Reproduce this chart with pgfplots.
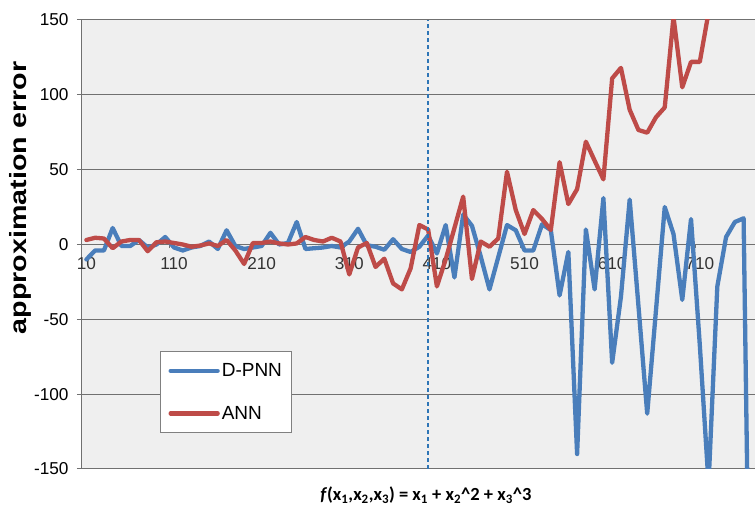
\documentclass[border=0pt]{standalone}
\usepackage{fontspec}
\setmainfont{Liberation Sans}
\newfontfamily\carlito{Carlito}
\usepackage{graphicx}
\usepackage{pgfplots}
\pgfplotsset{compat=1.18}
\definecolor{bluel}{RGB}{74,126,187}
\definecolor{redl}{RGB}{190,75,72}
\definecolor{bgc}{RGB}{239,239,239}
\definecolor{gridc}{RGB}{112,112,112}
\definecolor{dashc}{RGB}{46,117,182}
\begin{document}
\begin{tikzpicture}
\path[use as bounding box] (-82pt,-37pt) rectangle (673pt,469pt);
\begin{axis}[
  at={(0pt,0pt)}, anchor=south west,
  scale only axis, width=673pt, height=449pt,
  xmin=5, xmax=773, ymin=-150, ymax=150,
  axis x line=middle, axis y line=left,
  axis line style={-, draw=gridc, line width=1pt},
  axis background/.style={fill=bgc},
  ytick={-150,-100,-50,0,50,100,150},
  yticklabels={-150,-100,-50,0,50,100,150},
  xtick={10,110,210,310,410,510,610,710},
  xticklabels={10,110,210,310,410,510,610,710},
  x tick style={draw=none},
  y tick style={draw=gridc, line width=1pt},
  ytick align=outside, major tick length=5pt,
  extra x ticks={105,205,305,405,505,605,705},
  extra x tick labels={},
  extra x tick style={x tick style={draw=gridc, line width=1pt}, tick align=outside, major tick length=4pt},
  ymajorgrids, grid style={draw=gridc, line width=1pt},
  yticklabel style={font=\fontsize{17.2}{20}\selectfont, text=black, xshift=-5pt},
  xticklabel style={font=\fontsize{17.2}{20}\selectfont, text=black!80, anchor=north, yshift=-7pt},
  xlabel={\textbf{\textit{f}(x\textsubscript{1},x\textsubscript{2},x\textsubscript{3}) = x\textsubscript{1} + x\textsubscript{2}\^{}2 + x\textsubscript{3}\^{}3}},
  xlabel style={font=\carlito\bfseries\fontsize{18.5}{21}\selectfont, at={(axis description cs:0.511,0)}, anchor=center, yshift=-26pt},
  legend style={at={(axis description cs:0.1159,0.2628)}, anchor=north west, draw=gray, fill=white, line width=1pt, font=\fontsize{19}{22}\selectfont, inner xsep=8pt, inner ysep=10pt, row sep=24pt},
  legend cell align=left,
  legend image code/.code={\draw[#1] (0pt,0pt) -- (47pt,0pt);},
  every axis plot/.append style={line join=round, line cap=round},
]
\addplot[bluel, line width=4.3pt] coordinates {
(10,-10) (20,-4) (30,-4) (40,11) (50,-1) (60,-1) (70,3) (80,-2) (90,0) (100,5)
(110,-2) (120,-4) (130,-2) (140,-1) (150,2) (160,-3) (170,9.5) (180,-1) (190,-3) (200,-2)
(210,-1) (220,7.8) (230,0) (240,1) (250,15) (260,-3) (270,-2.5) (280,-2) (290,-1) (300,-2)
(310,2) (320,10.5) (330,-0.5) (340,-1.5) (350,-3.5) (360,3.5) (370,-3) (380,-5) (390,-1.5) (400,6)
(410,-6) (420,13) (430,-22) (440,20) (450,12.5) (460,-8) (470,-30) (480,-8.5) (490,13) (500,9.5)
(510,-4) (520,-4) (530,13.5) (540,9.6) (550,-34) (560,-5) (570,-140) (580,10) (590,-30) (600,31)
(610,-79) (620,-35) (630,30) (640,-41) (650,-113) (660,-44) (670,25) (680,7) (690,-37) (700,17)
(710,-67) (720,-160) (730,-28) (740,5) (750,15) (760,17.5) (770,-400)
};
\addlegendentry{D-PNN}
\addplot[redl, line width=4.3pt] coordinates {
(10,3) (20,4.5) (30,4) (40,-2.5) (50,2) (60,3) (70,3) (80,-4.5) (90,1.5) (100,2)
(110,1) (120,0) (130,-1.5) (140,-0.7) (150,0.7) (160,-1) (170,3) (180,-4) (190,-13) (200,1)
(210,1) (220,2) (230,0.7) (240,0) (250,0.7) (260,5) (270,3) (280,2) (290,4.5) (300,2)
(310,-20) (320,-2) (330,1) (340,-15) (350,-9.5) (360,-26) (370,-30) (380,-16) (390,13) (400,10)
(410,-28) (420,-10) (430,11) (440,32) (450,-23) (460,2) (470,-1.5) (480,4) (490,48.6) (500,23)
(510,7) (520,23) (530,17) (540,9.7) (550,55) (560,27) (570,37) (580,68.7) (590,56) (600,43.5)
(610,111) (620,118) (630,90) (640,76.5) (650,74.7) (660,85) (670,91.6) (680,152) (690,105) (700,122)
(710,122) (720,155)
};
\addlegendentry{ANN}
\addplot[dashc, line width=1.3pt, dash pattern=on 4pt off 3pt, line cap=butt, forget plot] coordinates {(400,-150) (400,150)};
\end{axis}
\node[rotate=90, font=\bfseries\fontsize{23.5}{26}\selectfont, anchor=center] at (-62pt,271pt) {\scalebox{1.22}[1]{approximation error}};
\end{tikzpicture}
\end{document}
